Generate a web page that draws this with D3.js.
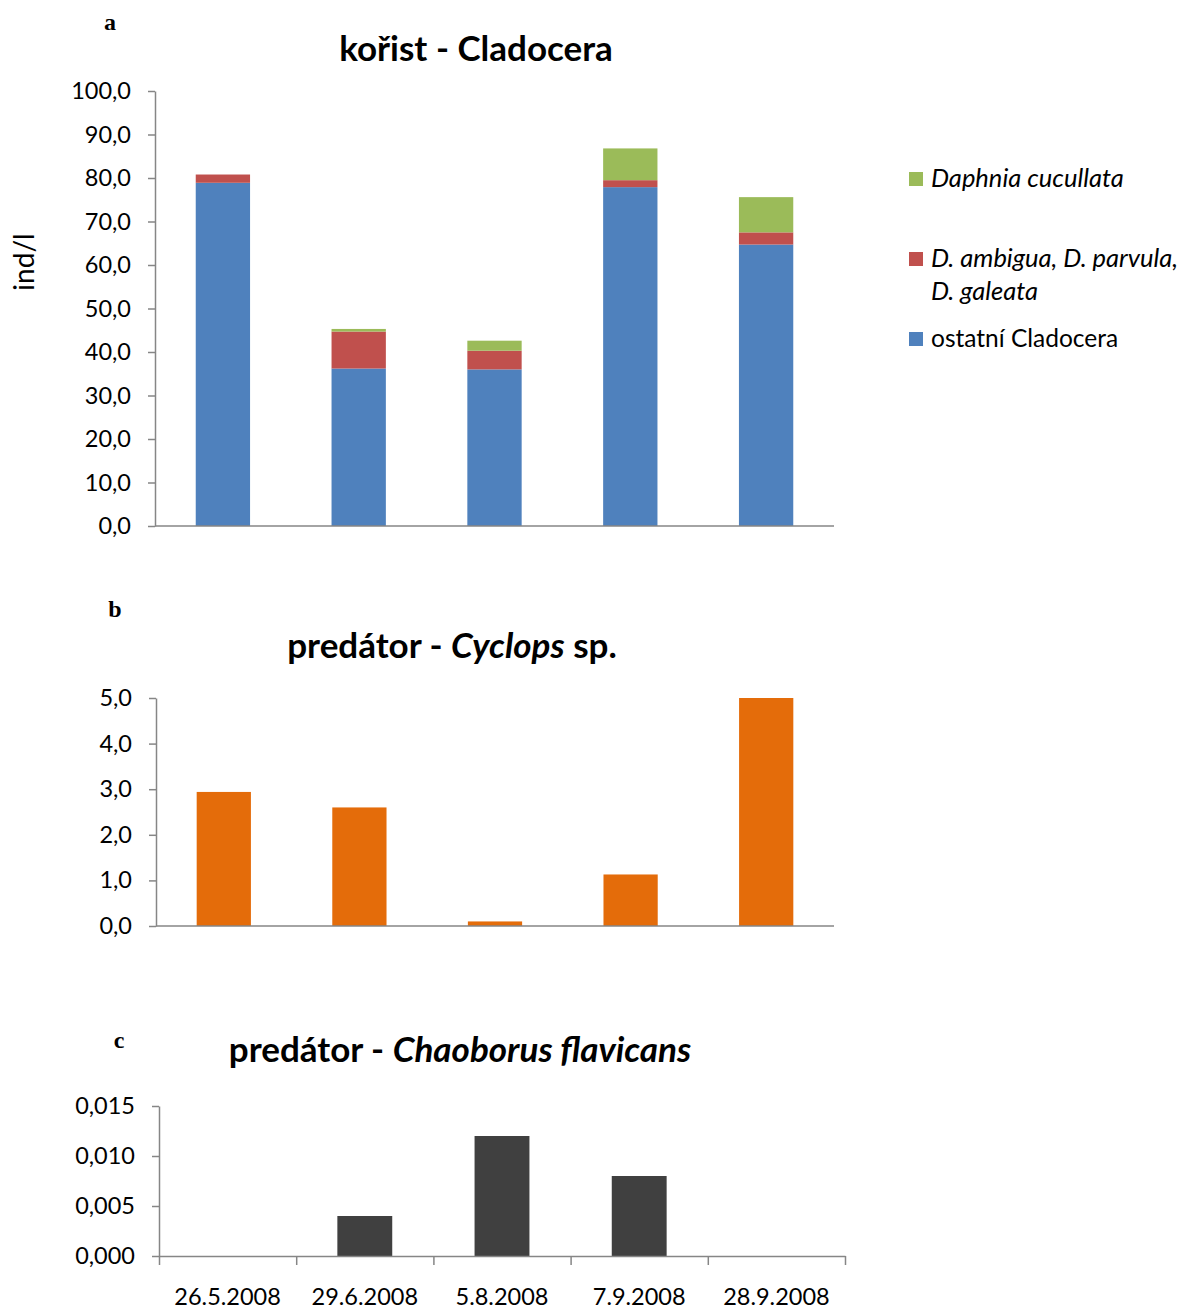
<!DOCTYPE html>
<html>
<head>
<meta charset="utf-8">
<script src="https://cdn.jsdelivr.net/npm/d3@7"></script>
<style>
  body { margin: 0; background: #fff; }
  text { font-family: Lato, "Open Sans", sans-serif; fill: #000; }
  .panel { font-family: "Liberation Serif", serif; font-weight: bold; font-size: 24px; }
  .title { font-weight: bold; font-size: 35px; }
  .axis path, .axis line { stroke: #868686; stroke-width: 1.5; }
  .axis text { font-family: Lato, sans-serif; font-size: 23.5px; fill: #000; }
</style>
</head>
<body>
<div id="chart"></div>
<script>
// data
var dates = ['26.5.2008', '29.6.2008', '5.8.2008', '7.9.2008', '28.9.2008'];
var ostatni = [78.9, 36.2, 36.0, 77.9, 64.7];
var ambigua = [1.9, 8.5, 4.3, 1.6, 2.8];
var cucullata = [0, 0.6, 2.3, 7.3, 8.1];
var cyclops = [2.94, 2.60, 0.10, 1.13, 5.0];
var chaoborus = [0, 0.004, 0.012, 0.008, 0];
var ticks_a = [0, 10, 20, 30, 40, 50, 60, 70, 80, 90, 100];
var ticks_b = [0, 1, 2, 3, 4, 5];
var ticks_c = [0, 0.005, 0.010, 0.015];
var series_names = ['ostatní Cladocera', 'D. ambigua, D. parvula, D. galeata', 'Daphnia cucullata'];
var series_colors = ['#4F81BD', '#C0504D', '#9BBB59'];

var chart_width = 1187;
var chart_height = 1311;

var cz = d3.formatLocale({ decimal: ',', thousands: ' ', grouping: [3], currency: ['', ''] });
var fmt1 = cz.format('.1f');
var fmt3 = cz.format('.3f');

var svg = d3.select('#chart')
    .append('svg')
    .attr('width', chart_width)
    .attr('height', chart_height);

function band(x0, x1) {
    return d3.scaleBand()
        .domain(dates)
        .range([x0, x1])
        .paddingInner(0.6)
        .paddingOuter(0.3);
}

function yAxis(g, scale, values, format) {
    g.attr('class', 'axis')
        .call(d3.axisLeft(scale)
            .tickValues(values)
            .tickFormat(format)
            .tickSize(7)
            .tickSizeOuter(0)
            .tickPadding(17));
}

// ---------- a: kořist - Cladocera ----------
var xA = band(155, 834);
var yA = d3.scaleLinear().domain([0, 100]).range([526, 91]);

var stacked = d3.stack().keys([0, 1, 2])(dates.map(function(d, i) {
    return { 0: ostatni[i], 1: ambigua[i], 2: cucullata[i] };
}));

svg.append('g').selectAll('g')
    .data(stacked)
    .enter()
    .append('g')
    .attr('fill', function(d, i) { return series_colors[i]; })
    .selectAll('rect')
    .data(function(d) { return d; })
    .enter()
    .append('rect')
    .attr('x', function(d, i) { return xA(dates[i]); })
    .attr('y', function(d) { return yA(d[1]); })
    .attr('width', xA.bandwidth())
    .attr('height', function(d) { return yA(d[0]) - yA(d[1]); });

svg.append('g').attr('transform', 'translate(155,0)')
    .call(yAxis, yA, ticks_a, fmt1);
svg.append('line')
    .attr('x1', 155).attr('x2', 834)
    .attr('y1', yA(0)).attr('y2', yA(0))
    .attr('stroke', '#868686').attr('stroke-width', 1.5);

svg.append('text').attr('class', 'panel').attr('x', 110).attr('y', 30)
    .attr('text-anchor', 'middle').text('a');
svg.append('text').attr('class', 'title').attr('x', 476).attr('y', 61)
    .attr('text-anchor', 'middle').text('kořist - Cladocera');
svg.append('text')
    .attr('transform', 'translate(34,262) rotate(-90)')
    .attr('text-anchor', 'middle')
    .style('font-size', '28px')
    .text('ind/l');

// legend
var legend_items = [
    { idx: 2, y: 179, lines: ['Daphnia cucullata'], italic: true },
    { idx: 1, y: 259, lines: ['D. ambigua, D. parvula,', 'D. galeata'], italic: true },
    { idx: 0, y: 339, lines: ['ostatní Cladocera'], italic: false }
];
var lg = svg.append('g').selectAll('g')
    .data(legend_items)
    .enter()
    .append('g');
lg.append('rect')
    .attr('x', 909).attr('y', function(d) { return d.y - 7; })
    .attr('width', 14).attr('height', 14)
    .attr('fill', function(d) { return series_colors[d.idx]; });
lg.each(function(d) {
    var g = d3.select(this);
    d.lines.forEach(function(l, j) {
        g.append('text')
            .attr('x', 931).attr('y', d.y + 8 + j * 33)
            .style('font-size', d.italic ? '25.5px' : '24.5px')
            .style('font-style', d.italic ? 'italic' : 'normal')
            .text(l);
    });
});

// ---------- b: predátor - Cyclops sp. ----------
var xB = band(156, 834);
var yB = d3.scaleLinear().domain([0, 5]).range([926, 698]);

svg.append('g').selectAll('rect')
    .data(cyclops)
    .enter()
    .append('rect')
    .attr('x', function(d, i) { return xB(dates[i]); })
    .attr('y', function(d) { return yB(d); })
    .attr('width', xB.bandwidth())
    .attr('height', function(d) { return yB(0) - yB(d); })
    .attr('fill', '#E46C0A');

svg.append('g').attr('transform', 'translate(156,0)')
    .call(yAxis, yB, ticks_b, fmt1);
svg.append('line')
    .attr('x1', 156).attr('x2', 834)
    .attr('y1', yB(0)).attr('y2', yB(0))
    .attr('stroke', '#868686').attr('stroke-width', 1.5);

svg.append('text').attr('class', 'panel').attr('x', 115).attr('y', 617)
    .attr('text-anchor', 'middle').text('b');
var tb = svg.append('text').attr('class', 'title').attr('x', 452).attr('y', 658)
    .attr('text-anchor', 'middle');
tb.append('tspan').text('predátor - ');
tb.append('tspan').style('font-style', 'italic').text('Cyclops');
tb.append('tspan').text(' sp.');

// ---------- c: predátor - Chaoborus flavicans ----------
var xC = band(159, 845);
var yC = d3.scaleLinear().domain([0, 0.015]).range([1256, 1106]);

svg.append('g').selectAll('rect')
    .data(chaoborus)
    .enter()
    .append('rect')
    .attr('x', function(d, i) { return xC(dates[i]); })
    .attr('y', function(d) { return yC(d); })
    .attr('width', xC.bandwidth())
    .attr('height', function(d) { return yC(0) - yC(d); })
    .attr('fill', '#404040');

svg.append('g').attr('transform', 'translate(159,0)')
    .call(yAxis, yC, ticks_c, fmt3);

// category boundary ticks
var xCb = d3.scaleLinear().domain([0, dates.length]).range([159, 845]);
svg.append('g').attr('class', 'axis')
    .attr('transform', 'translate(0,' + yC(0) + ')')
    .call(d3.axisBottom(xCb).tickValues(d3.range(dates.length + 1)).tickFormat('').tickSize(9).tickSizeOuter(0));
// date labels
svg.append('g').attr('class', 'axis')
    .attr('transform', 'translate(0,' + yC(0) + ')')
    .call(d3.axisBottom(xC).tickSize(0).tickPadding(32))
    .call(function(g) { g.select('.domain').remove(); });

svg.append('text').attr('class', 'panel').attr('x', 119).attr('y', 1048)
    .attr('text-anchor', 'middle').text('c');
var tc = svg.append('text').attr('class', 'title').attr('x', 460).attr('y', 1062)
    .attr('text-anchor', 'middle');
tc.append('tspan').text('predátor - ');
tc.append('tspan').style('font-style', 'italic').text('Chaoborus flavicans');
</script>
</body>
</html>
